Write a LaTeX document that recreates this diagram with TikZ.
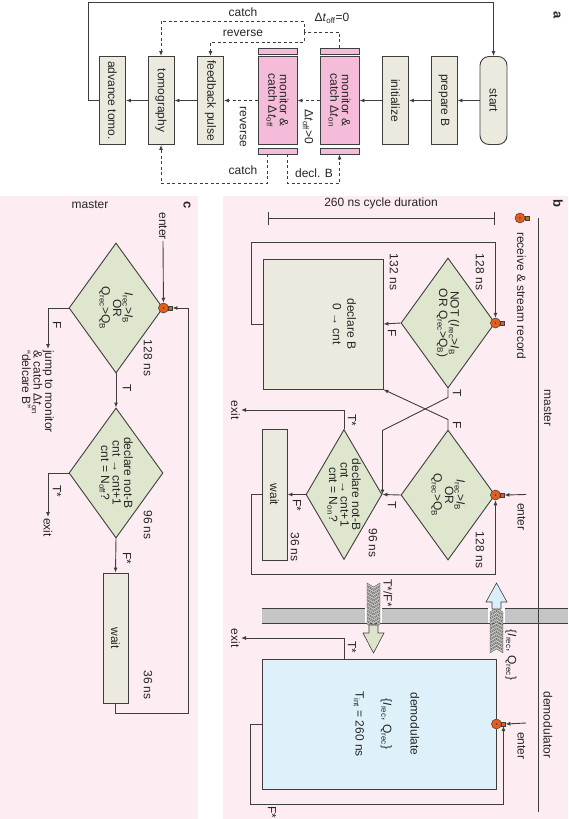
\documentclass[tikz,border=0pt]{standalone}
\usepackage{fontspec}
\setmainfont{Liberation Sans}
\usetikzlibrary{arrows.meta, shapes.geometric}

\definecolor{edge}{RGB}{62,62,62}
\definecolor{panelpink}{RGB}{253,237,243}
\definecolor{boxfill}{RGB}{236,233,222}
\definecolor{monfill}{RGB}{245,188,217}
\definecolor{diafill}{RGB}{223,230,206}
\definecolor{demfill}{RGB}{222,241,250}
\definecolor{recvorange}{RGB}{232,92,26}
\definecolor{barfill}{RGB}{197,197,197}
\definecolor{upfill}{RGB}{218,238,250}
\definecolor{downfill}{RGB}{221,228,202}
\definecolor{chevfill}{RGB}{196,199,192}

\newcommand{\subtx}[1]{\textsubscript{#1}}
\newcommand{\Irec}{\textit{I}\subtx{rec}}
\newcommand{\Qrec}{Q\subtx{rec}}
\newcommand{\Dt}[1]{Δ\textit{t}\subtx{#1}}

\newcommand{\recvicon}[2]{%
	\node[recv] (#1) at (#2) {};
	\fill[edge] (#1.center) circle (0.9pt);
	\node[recvsq] (#1s) at ([xshift=7pt]#1.center) {};
}

\tikzset{
	rot/.style={rotate=-90},
	lbl/.style={rot, inner sep=1pt},
	proc/.style={rot, draw=edge, fill=boxfill, line width=0.9pt, minimum width=88, minimum height=26, inner sep=0pt, align=center},
	mon/.style={proc, fill=monfill, minimum height=39},
	capbar/.style={rot, draw=edge, fill=monfill, line width=0.9pt, minimum width=6, minimum height=39, inner sep=0pt},
	decide/.style={rot, diamond, draw=edge, fill=diafill, line width=0.9pt, minimum width=130, minimum height=94, shape aspect=1.4, inner sep=-4pt, align=center},
	flow/.style={draw=edge, line width=0.9pt, -{Latex[length=5pt,width=4pt]}},
	dline/.style={draw=edge, line width=0.9pt, dash pattern=on 3pt off 2.5pt},
	dflow/.style={flow, dash pattern=on 3pt off 2.5pt},
	recv/.style={circle, draw=edge, fill=recvorange, line width=0.5pt, minimum size=10pt, inner sep=0pt},
	recvsq/.style={draw=edge, fill=recvorange, line width=0.5pt, minimum size=3.5pt, inner sep=0pt},
	chev/.style={draw=edge, fill=chevfill, line width=0.3pt},
	tag/.style={rot, font=\bfseries\fontsize{13}{13}\selectfont}
}

\begin{document}
\begin{tikzpicture}[x=1pt, y=-1pt, font=\fontsize{12}{11.5}\selectfont, text=black!85]
	\useasboundingbox (0,0) rectangle (568,819);
	\fill[panelpink] (0,196) rectangle (198,819);
	\fill[panelpink] (223,196) rectangle (568,819);

	\node[tag] (tagA) at (557,15) {a};
	\node[proc, rounded corners=9pt, minimum height=27] (start) at (493.5,100.5) {start};
	\node[proc] (prepB) at (444,100.5) {prepare B};
	\node[proc] (init) at (395.5,100.5) {initialize};
	\node[mon] (monOn) at (339.5,100.5) {monitor \&\\catch \Dt{on}};
	\node[mon] (monOff) at (277.5,100.5) {monitor \&\\catch \Dt{off}};
	\node[proc] (fbp) at (210.5,100.5) {feedback pulse};
	\node[proc] (tomo) at (161,100.5) {tomography};
	\node[proc] (adv) at (112.5,100.5) {advance tomo.};
	\node[capbar] (onTop) at ([yshift=5pt]monOn.west) {};
	\node[capbar] (onBot) at ([yshift=-6pt]monOn.east) {};
	\node[capbar] (offTop) at ([yshift=5pt]monOff.west) {};
	\node[capbar] (offBot) at ([yshift=-6pt]monOff.east) {};
	\coordinate (split) at (304,32);
	\draw[flow] (start) -- (prepB);
	\draw[flow] (prepB) -- (init);
	\draw[flow] (init) -- (monOn);
	\draw[dflow] (monOn) -- (monOff);
	\draw[dflow] (monOff) -- (fbp);
	\draw[flow] (fbp) -- (tomo);
	\draw[flow] (tomo) -- (adv);
	\draw[flow] (adv.south) -- ++(-11,0) |- ([yshift=54pt]start.west) -- (start.west);
	\draw[dline] (onTop.west) |- (split);
	\draw[dflow] (split) |- ([yshift=35pt]tomo.west) -- (tomo.west);
	\draw[dflow] (split) |- ([yshift=14pt]fbp.west) -- (fbp.west);
	\draw[dflow] ([xshift=-10pt]offBot.east) |- ([yshift=-38pt]tomo.east) -- (tomo.east);
	\draw[dflow] ([xshift=10pt]offBot.east) |- ([yshift=-29pt]onBot.east) -- (onBot.east);
	\node (catchTop) at (243,12) {catch};
	\node (revTop) at (243,33) {reverse};
	\node (offZero) at (332,18) {\Dt{off}=0};
	\node (catchBot) at (243,170) {catch};
	\node (declTxt) at (314,173) {decl. B};
	\node[lbl] (offPos) at (308,127) {\Dt{off}>0};
	\node[lbl] (revSide) at (243,127) {reverse};

	\node[tag] (tagB) at (558,203) {b};
	\node (cycle) at (381,203) {260 ns cycle duration};
	\draw[edge, line width=1pt, {Bar[width=13pt]}-{Bar[width=13pt]}] (268,218) -- (495,218);
	\node[lbl] (masterB) at (548,408) {master};
	\node[lbl] (demodLane) at (548,725) {demodulator};
	\recvicon{legend}{520,218}
	\node[lbl, anchor=west] (legendTxt) at (521.5,231) {receive \& stream record};
	\node[decide] (b1) at (448,323) {NOT (\Irec>\textit{I}\subtx{B}\\OR \Qrec>Q\subtx{B})};
	\recvicon{rcvA}{b1.north}
	\node[proc, minimum width=130, minimum height=120] (declB) at (323,324) {};
	\node[lbl, align=center] (declBTxt) at (344.5,324) {declare B\\[3pt]0 → cnt};
	\node[decide] (b2) at (448,495) {\Irec>\textit{I}\subtx{B}\\OR\\\Qrec>Q\subtx{B}};
	\recvicon{rcvB}{b2.north}
	\node[decide, minimum height=76, shape aspect=1.7] (b3) at (344,494.5) {declare not-B\\cnt → cnt+1\\cnt = N\subtx{on}?};
	\node[proc, minimum width=131, minimum height=25] (waitB) at (274.5,494.5) {wait};
	\node[proc, fill=demfill, minimum width=130, minimum height=234] (demod) at (379,724) {};
	\node[lbl, align=center] (demodTxt) at (386.5,724) {demodulate\\[16pt]\{\Irec, \Qrec\}\\[16pt]T\subtx{int} = 260 ns};
	\recvicon{rcvC}{demod.north}
	\coordinate (inB) at (526,494.5);
	\node[lbl, anchor=west] (enterB) at (521.5,502) {enter};
	\draw[flow] (inB) -- (rcvBs.east);
	\coordinate (inC) at (526,723);
	\node[lbl, anchor=west] (enterC) at (521.5,731) {enter};
	\draw[flow] (inC) -- (rcvCs.east);
	\draw[flow] (b1.south) -- (declB.north);
	\draw[flow] (declB.south) -- ++(-11,0) |- ([yshift=75pt]rcvA.north) -- (rcvA.north);
	\draw[flow] (b1.east) -- ++(0,9) -- ([yshift=64pt]b3.north) -- (b3.north);
	\draw[flow] (b2.west) -- ++(0,-10) -- (declB.north east);
	\draw[flow] (b2.south) -- (b3.north);
	\draw[flow] (b3.south) -- (waitB.north);
	\node[lbl, anchor=north] (exitB) at (241,410) {exit};
	\draw[flow] (b3.west) |- (exitB.north);
	\draw[flow] (waitB.south) -- ++(-10,0) |- ([yshift=-74pt]rcvB.south) -- (rcvB.south);
	\node[lbl, anchor=north] (exitC) at (241,638) {exit};
	\draw[flow] ([xshift=-35pt]demod.west) |- (exitC.north);
	\draw[flow] (demod.south) -- ++(-11,0) |- ([yshift=-78pt]rcvCs.south) -- (rcvCs.south);
	\node[lbl] (nsB1) at (480,272) {128 ns};
	\node[lbl] (nsDecl) at (394,272) {132 ns};
	\node[lbl] (nsB2) at (480,550) {128 ns};
	\node[lbl] (nsB3) at (373,543) {96 ns};
	\node[lbl] (nsWaitB) at (295,547) {36 ns};
	\node[lbl] (fB1) at (392,333) {F};
	\node[lbl] (tB1) at (457,393) {T};
	\node[lbl] (fB2) at (457,425) {F};
	\node[lbl] (tB2) at (392,505) {T};
	\node[lbl] (tB3) at (352,420) {T*};
	\node[lbl] (fB3) at (297,505) {F*};
	\node[lbl] (tfB) at (388,593) {T*/F*};
	\node[lbl] (iqB) at (511,655) {\{\Irec, \Qrec\}};
	\node[lbl] (tDem) at (352,647) {T*};
	\node[lbl] (fDem) at (272,812) {F*};
	\fill[barfill] (262,608) rectangle (568,623);
	\draw[edge, line width=0.8pt] (262,608) -- (568,608) (262,623) -- (568,623);
	\fill[white] (365,607.6) rectangle (382,623.4);
	\fill[white] (488,607.6) rectangle (505,623.4);
	\foreach \k in {0,...,11}
		\filldraw[chev, shift={(373.5,583+3.5*\k)}] (-6.5,0) -- (0,4) -- (6.5,0) -- (6.5,2.4) -- (0,6.4) -- (-6.5,2.4) -- cycle;
	\filldraw[draw=edge, fill=downfill, line width=0.6pt] (369,625) -- (369,633) -- (363,633) -- (373.5,653) -- (384,633) -- (378,633) -- (378,625) -- cycle;
	\foreach \k in {0,...,11}
		\filldraw[chev, shift={(496.5,608+3.5*\k)}] (-6.5,4) -- (0,0) -- (6.5,4) -- (6.5,6.4) -- (0,2.4) -- (-6.5,6.4) -- cycle;
	\filldraw[draw=edge, fill=upfill, line width=0.6pt] (496.5,583) -- (507,602) -- (501,602) -- (501,609) -- (492,609) -- (492,602) -- (486,602) -- cycle;
	\draw[edge, line width=0.8pt] (538,218) -- (538,812);

	\node[tag] (tagC) at (187,205) {c};
	\node (masterC) at (90,205) {master};
	\node[decide] (c1) at (116,308) {\Irec>\textit{I}\subtx{B}\\OR\\\Qrec>Q\subtx{B}};
	\recvicon{rcvD}{c1.north}
	\node[lbl, anchor=east] (enterD) at (163,241) {enter};
	\draw[flow] (enterD.east) -- (rcvD.north);
	\node[decide] (c2) at (116,473) {declare not-B\\cnt → cnt+1\\cnt = N\subtx{off}?};
	\node[proc, minimum width=130, minimum height=25] (waitC) at (115.5,638) {wait};
	\node[lbl, anchor=north west, align=left] (jump) at (55,349) {jump to monitor\\\& catch \Dt{on}\\“delcare B”};
	\node[lbl, anchor=west] (exitD) at (48,517) {exit};
	\draw[flow] (c1.south) -| ([xshift=-7pt]jump.north west);
	\draw[flow] (c1.east) -- (c2.west);
	\draw[flow] (c2.south) -| (exitD.west);
	\draw[flow] (c2.east) -- (waitC.west);
	\draw[flow] (waitC.east) -- ++(0,10) -- ++(73,0) |- (rcvDs.east);
	\node[lbl] (nsC1) at (148,358) {128 ns};
	\node[lbl] (nsC2) at (148,525) {96 ns};
	\node[lbl] (nsWaitC) at (148,685) {36 ns};
	\node[lbl] (fC1) at (57,325) {F};
	\node[lbl] (tC1) at (127,388) {T};
	\node[lbl] (tC2) at (57,491) {T*};
	\node[lbl] (fC2) at (127,558) {F*};
\end{tikzpicture}
\end{document}
